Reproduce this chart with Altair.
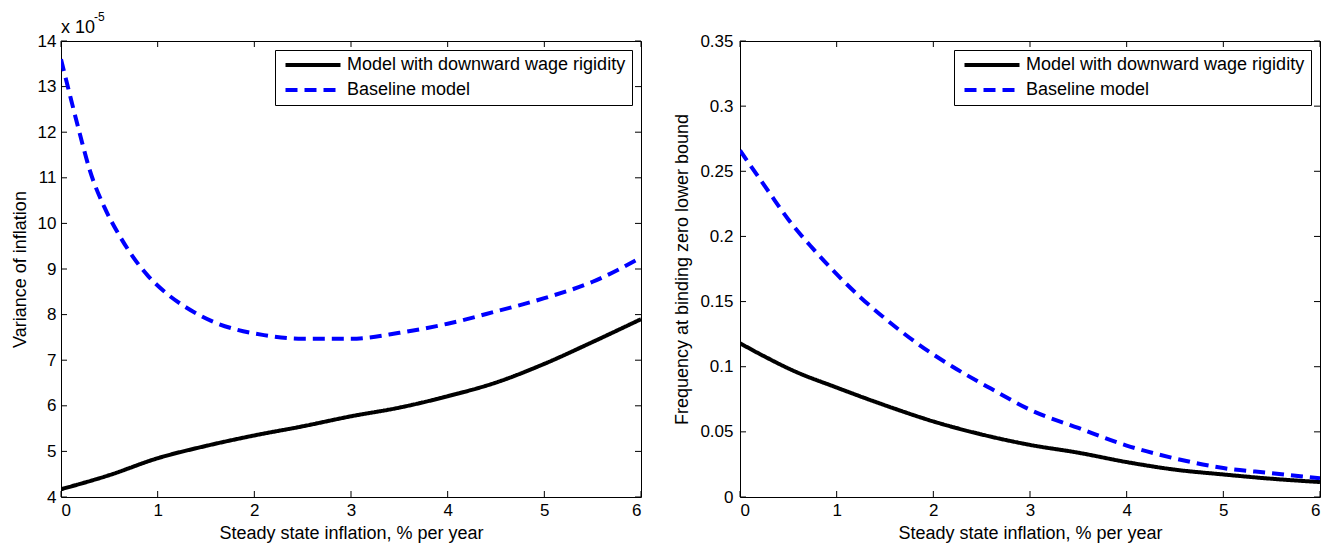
import altair as alt
import pandas as pd

FONT = "Liberation Sans"

SERIES = ["Model with downward wage rigidity", "Baseline model"]
SERIES_COLORS = ["#000000", "#0000ff"]
SERIES_DASH = [[1, 0], [12, 7]]

X_TICKS = [0, 1, 2, 3, 4, 5, 6]
X_TITLE = "Steady state inflation, % per year"

# Left panel: variance of inflation (units of 1e-5)
left_rigid_x = [0, 0.5, 1, 1.5, 2, 2.5, 3, 3.5, 4, 4.5, 5, 5.5, 6]
left_rigid_y = [4.17, 4.48, 4.85, 5.12, 5.35, 5.55, 5.77, 5.96, 6.21, 6.51, 6.92, 7.4, 7.9]
left_base_x = [0, 0.1, 0.2, 0.3, 0.45, 0.6, 0.75, 0.9, 1.1, 1.3, 1.6, 1.8, 2.1,
               2.5, 3, 3.5, 4, 4.5, 5, 5.5, 6]
left_base_y = [13.6, 12.75, 11.92, 11.15, 10.35, 9.75, 9.25, 8.85, 8.45, 8.15, 7.82,
               7.68, 7.55, 7.47, 7.47, 7.6, 7.8, 8.07, 8.36, 8.72, 9.25]
left_y_ticks = [4, 5, 6, 7, 8, 9, 10, 11, 12, 13, 14]
left_y_title = "Variance of inflation"
left_exp_base = ["x 10"]
left_exp_power = ["-5"]

# Right panel: frequency at binding ZLB
right_rigid_x = [0, 0.25, 0.55, 1, 1.5, 2, 2.5, 3, 3.5, 4, 4.5, 5, 5.5, 6]
right_rigid_y = [0.118, 0.108, 0.097, 0.084, 0.0704, 0.058, 0.048, 0.040, 0.034,
                 0.0268, 0.021, 0.0173, 0.014, 0.0115]
right_base_x = [0, 0.3, 0.5, 0.75, 1, 1.25, 1.5, 1.85, 2.2, 2.6, 3, 3.5, 4, 4.5,
                5, 5.5, 6]
right_base_y = [0.266, 0.234, 0.213, 0.191, 0.171, 0.153, 0.137, 0.117, 0.1, 0.083,
                0.067, 0.053, 0.0395, 0.0296, 0.0222, 0.0183, 0.0143]
right_y_ticks = [0, 0.05, 0.1, 0.15, 0.2, 0.25, 0.3, 0.35]
right_y_title = "Frequency at binding zero lower bound"

W, H = 580, 456
TICK = 6


def series_df(xs_a, ys_a, xs_b, ys_b):
    a = pd.DataFrame({"x": xs_a, "y": ys_a, "series": SERIES[0]})
    b = pd.DataFrame({"x": xs_b, "y": ys_b, "series": SERIES[1]})
    return pd.concat([a, b], ignore_index=True)


def panel(df, y_ticks, y_domain, y_title, y_label_pad, y_title_pad):
    xs = alt.Scale(domain=[0, 6], nice=False, zero=False)
    ys = alt.Scale(domain=y_domain, nice=False, zero=False)
    lines = alt.Chart(df).mark_line(strokeWidth=4, clip=True, interpolate="monotone").encode(
        x=alt.X("x:Q", scale=xs,
                axis=alt.Axis(values=X_TICKS, title=X_TITLE, labelPadding=5,
                              titlePadding=6, format="~g")),
        y=alt.Y("y:Q", scale=ys,
                axis=alt.Axis(values=y_ticks, title=y_title, labelPadding=y_label_pad,
                              titlePadding=y_title_pad, format="~g")),
        color=alt.Color("series:N",
                        scale=alt.Scale(domain=SERIES, range=SERIES_COLORS),
                        legend=alt.Legend(title=None)),
        strokeDash=alt.StrokeDash("series:N",
                                  scale=alt.Scale(domain=SERIES, range=SERIES_DASH),
                                  legend=alt.Legend(title=None)),
    )
    xt = pd.DataFrame({"x": X_TICKS})
    yt = pd.DataFrame({"y": y_ticks})
    rule = dict(color="black", strokeWidth=1)
    bottom = alt.Chart(xt).mark_rule(**rule).encode(
        x="x:Q", y=alt.value(H), y2=alt.value(H - TICK))
    top = alt.Chart(xt).mark_rule(**rule).encode(
        x="x:Q", y=alt.value(0), y2=alt.value(TICK))
    left = alt.Chart(yt).mark_rule(**rule).encode(
        y="y:Q", x=alt.value(0), x2=alt.value(TICK))
    right = alt.Chart(yt).mark_rule(**rule).encode(
        y="y:Q", x=alt.value(W), x2=alt.value(W - TICK))
    return [bottom, top, left, right, lines]


left_df = series_df(left_rigid_x, left_rigid_y, left_base_x, left_base_y)
right_df = series_df(right_rigid_x, right_rigid_y, right_base_x, right_base_y)

left_layers = panel(left_df, left_y_ticks, [4, 14], left_y_title, 5, 8)
exp_a = alt.Chart(pd.DataFrame({"t": left_exp_base})).mark_text(
    align="left", baseline="alphabetic", fontSize=18, font=FONT, color="black"
).encode(text="t:N", x=alt.value(0), y=alt.value(-8))
exp_b = alt.Chart(pd.DataFrame({"t": left_exp_power})).mark_text(
    align="left", baseline="alphabetic", fontSize=12, font=FONT, color="black"
).encode(text="t:N", x=alt.value(33), y=alt.value(-20))
left_chart = alt.layer(*left_layers, exp_a, exp_b).properties(width=W, height=H)

right_layers = panel(right_df, right_y_ticks, [0, 0.35], right_y_title, 7, 8)
right_chart = alt.layer(*right_layers).properties(width=W, height=H)

chart = alt.hconcat(left_chart, right_chart, spacing=99, bounds="flush").resolve_scale(
    x="independent", y="independent", color="independent", strokeDash="independent"
).resolve_legend(color="independent", strokeDash="independent").configure(
    padding={"left": 2, "top": 2, "right": 0, "bottom": 0}, font=FONT
).configure_view(stroke="black", strokeWidth=1).configure_axis(
    grid=False, domain=False, ticks=False,
    labelFont=FONT, labelFontSize=17, labelColor="black",
    titleFont=FONT, titleFontSize=18, titleFontWeight="normal", titleColor="black",
).configure_legend(
    orient="top-right", offset=9, strokeColor="black", fillColor="white",
    padding=6, labelFont=FONT, labelFontSize=18, labelColor="black",
    symbolType="M-5,0H5", symbolSize=121, symbolStrokeWidth=4,
    symbolFillColor="transparent",
    labelOffset=25, rowPadding=7, symbolOffset=23, labelLimit=400,
)

chart.save("out.html", embed_options={"renderer": "svg", "actions": False})
